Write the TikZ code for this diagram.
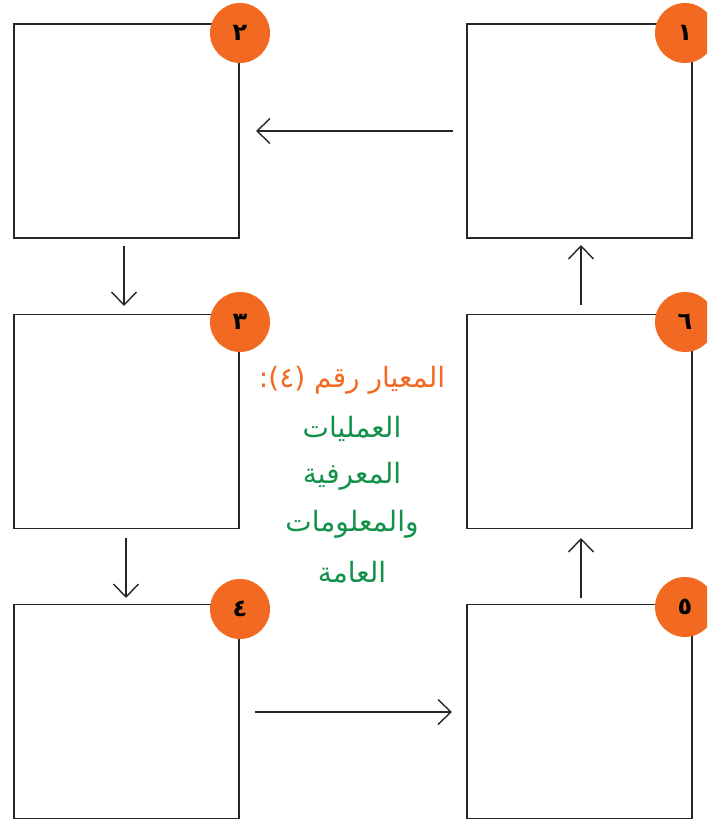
\documentclass[tikz,border=0pt]{standalone}
\usepackage{fontspec}
\usetikzlibrary{arrows.meta}
\newfontfamily\arabicfont[Script=Arabic]{DejaVu Sans}
\TeXXeTstate=1
\definecolor{orng}{HTML}{F26A21}
\definecolor{grn}{HTML}{13904A}
\begin{document}
\begin{tikzpicture}[x=1pt,y=-1pt,
  card/.style={draw=black!85,line width=1.8pt,minimum width=225pt,minimum height=214pt,inner sep=0pt},
  badge/.style={circle,fill=orng,minimum size=60pt,inner sep=0pt,font=\arabicfont\bfseries\fontsize{24}{24}\selectfont},
  flow/.style={draw=black!85,line width=1.4pt,-{Straight Barb[length=13pt,width=25pt,line width=1.4pt]}},
  ttl/.style={font=\arabicfont\fontsize{28}{28}\selectfont,text=orng},
  body/.style={font=\arabicfont\fontsize{28}{28}\selectfont,text=grn}]
\useasboundingbox (0,0) rectangle (707,821);
\clip (0,0) rectangle (707,821);
% boxes
\node[card] (b2) at (126.5,131) {};
\node[card] (b1) at (579.5,131) {};
\node[card] (b3) at (126.5,421.5) {};
\node[card] (b6) at (579.5,421.5) {};
\node[card] (b4) at (126.5,711.5) {};
\node[card] (b5) at (579.5,711.5) {};
% badges
\node[badge] (c2) at (240,33) {\beginR ٢\endR};
\node[badge] (c1) at (685,33) {\beginR ١\endR};
\node[badge] (c3) at (240,322) {\beginR ٣\endR};
\node[badge] (c6) at (685,322) {\beginR ٦\endR};
\node[badge] (c4) at (240,609) {\beginR ٤\endR};
\node[badge] (c5) at (685,607) {\beginR ٥\endR};
% arrows
\coordinate (a1s) at (453,131); \coordinate (a1e) at (256,131);
\coordinate (a2s) at (124,246); \coordinate (a2e) at (124,306);
\coordinate (a3s) at (126,538); \coordinate (a3e) at (126,598);
\coordinate (a4s) at (255,712); \coordinate (a4e) at (452,712);
\coordinate (a5s) at (581,598); \coordinate (a5e) at (581,538);
\coordinate (a6s) at (581,305); \coordinate (a6e) at (581,245);
\draw[flow] (a1s) -- (a1e);
\draw[flow] (a2s) -- (a2e);
\draw[flow] (a3s) -- (a3e);
\draw[flow] (a4s) -- (a4e);
\draw[flow] (a5s) -- (a5e);
\draw[flow] (a6s) -- (a6e);
% text
\node[ttl] (t0) at (352,380) {\beginR المعيار رقم (٤):\endR};
\node[body] (t1) at (352,429) {\beginR العمليات\endR};
\node[body] (t2) at (352,476) {\beginR المعرفية\endR};
\node[body] (t3) at (352,524) {\beginR والمعلومات\endR};
\node[body] (t4) at (352,572) {\beginR العامة\endR};
\end{tikzpicture}
\end{document}
